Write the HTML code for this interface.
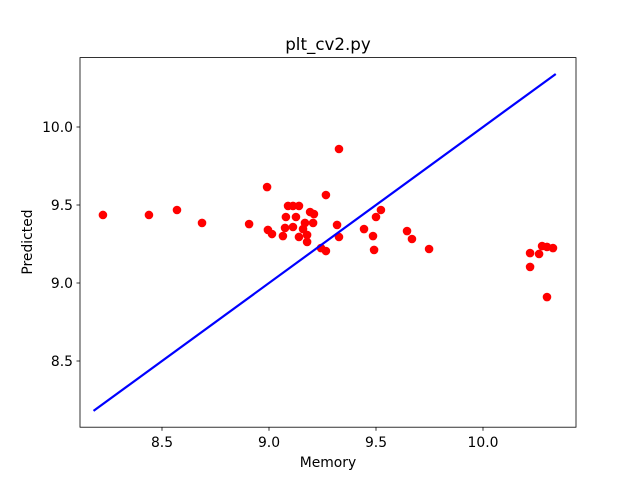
<!DOCTYPE html>
<html><head><meta charset="utf-8">
<style>
body{margin:0;background:#fff;}
svg text{font-family:"DejaVu Sans","Liberation Sans",sans-serif;fill:#000;}
</style></head>
<body>
<svg id="chart" width="640" height="480" xmlns="http://www.w3.org/2000/svg">
<rect x="0" y="0" width="640" height="480" fill="#fff"/>
<g id="plot"></g>
<rect x="80" y="57.6" width="496" height="369.6" fill="none" stroke="#000" stroke-width="0.8"/>
<text x="328" y="50" font-size="16.7" text-anchor="middle">plt_cv2.py</text>
<text x="328" y="467" font-size="13.9" text-anchor="middle">Memory</text>
<text x="32" y="242" font-size="13.9" text-anchor="middle" transform="rotate(-90 32 242)">Predicted</text>
<g id="ticks"></g>
</svg>
<script>
const xValues=[8.224,8.439,8.570,8.687,8.907,8.991,9.266,9.089,9.112,9.140,9.192,9.210,9.079,9.126,9.168,9.206,9.318,9.075,9.112,9.159,8.995,9.014,9.065,9.140,9.178,9.178,9.327,9.444,9.486,9.491,9.500,9.523,9.645,9.668,9.243,9.266,9.327,9.748,10.220,10.220,10.262,10.276,10.299,10.327,10.299];
const yValues=[9.436,9.436,9.468,9.385,9.378,9.615,9.564,9.494,9.494,9.494,9.455,9.442,9.423,9.423,9.385,9.385,9.372,9.353,9.359,9.346,9.340,9.314,9.301,9.295,9.308,9.263,9.295,9.346,9.301,9.212,9.423,9.468,9.333,9.282,9.224,9.205,9.859,9.218,9.192,9.103,9.186,9.237,9.231,9.224,8.910];
const lineX=[8.18,10.34];
const lineY=[8.18,10.34];
const xTicks=[8.5,9.0,9.5,10.0];
const yTicks=[8.5,9.0,9.5,10.0];
const NS="http://www.w3.org/2000/svg";
function sx(v){return 162+(v-8.5)*214;}
function sy(v){return 283-(v-9.0)*156;}
const plot=document.getElementById('plot');
const ticks=document.getElementById('ticks');
for(let i=0;i<xValues.length;i++){
  const c=document.createElementNS(NS,'circle');
  c.setAttribute('cx',sx(xValues[i]));c.setAttribute('cy',sy(yValues[i]));
  c.setAttribute('r',4.3);c.setAttribute('fill','#ff0000');
  
  
  plot.appendChild(c);
}
const ln=document.createElementNS(NS,'line');
ln.setAttribute('x1',sx(lineX[0]));ln.setAttribute('y1',sy(lineY[0]));
ln.setAttribute('x2',sx(lineX[1]));ln.setAttribute('y2',sy(lineY[1]));
ln.setAttribute('stroke','#0000ff');ln.setAttribute('stroke-width',2.2);


plot.appendChild(ln);
xTicks.forEach(t=>{
  const l=document.createElementNS(NS,'line');
  l.setAttribute('x1',sx(t));l.setAttribute('x2',sx(t));l.setAttribute('y1',427.2);l.setAttribute('y2',430.7);
  l.setAttribute('stroke','#000');l.setAttribute('stroke-width',0.8);
  
  
  ticks.appendChild(l);
  const tx=document.createElementNS(NS,'text');
  tx.setAttribute('x',sx(t));tx.setAttribute('y',447);tx.setAttribute('font-size','13.9');tx.setAttribute('text-anchor','middle');
  tx.textContent=t.toFixed(1);
  
  
  ticks.appendChild(tx);
});
yTicks.forEach(t=>{
  const l=document.createElementNS(NS,'line');
  l.setAttribute('x1',76.5);l.setAttribute('x2',80);l.setAttribute('y1',sy(t));l.setAttribute('y2',sy(t));
  l.setAttribute('stroke','#000');l.setAttribute('stroke-width',0.8);
  
  
  ticks.appendChild(l);
  const tx=document.createElementNS(NS,'text');
  tx.setAttribute('x',73);tx.setAttribute('y',sy(t)+5);tx.setAttribute('font-size','13.9');tx.setAttribute('text-anchor','end');
  tx.textContent=t.toFixed(1);
  
  
  ticks.appendChild(tx);
});
</script>
</body></html>
